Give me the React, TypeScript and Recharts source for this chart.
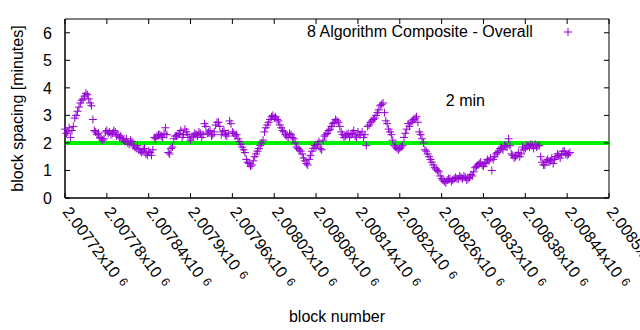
import React from "react";
import { ScatterChart, Scatter, XAxis, YAxis, ReferenceLine, ReferenceDot, ReferenceArea, Legend } from "recharts";

// block spacing samples, one every 2 blocks starting at block 2007720
const firstBlock = 2007720;
const blockStep = 2;
const spacingMinutes = [
  2.5, 2.35, 2.4, 2.55, 2.2, 2.45, 2.6, 2.9, 3.0, 3.15, 3.3, 3.45, 3.55, 3.6, 3.7, 3.8, 3.75, 3.6, 3.45, 3.35,
  2.85, 2.45, 2.4, 2.3, 2.35, 2.2, 2.15, 2.1, 2.15, 2.4, 2.45, 2.35, 2.4, 2.3, 2.35, 2.45, 2.4, 2.25, 2.3, 2.2,
  2.25, 2.15, 2.1, 2.05, 2.15, 2.0, 1.95, 2.1, 2.05, 1.9, 1.85, 1.8, 1.9, 1.75, 1.7, 1.65, 1.75, 1.8, 1.6, 1.55,
  1.7, 1.65, 1.55, 1.75, 2.2, 2.15, 2.25, 2.3, 2.3, 2.25, 2.2, 2.35, 2.55, 2.3, 1.65, 1.6, 1.8, 1.85, 2.15, 2.25,
  2.25, 2.3, 2.35, 2.45, 2.2, 2.3, 2.5, 2.4, 2.3, 2.2, 2.1, 2.2, 2.25, 2.35, 2.3, 2.25, 2.4, 2.35, 2.2, 2.3,
  2.7, 2.6, 2.35, 2.4, 2.45, 2.25, 2.3, 2.4, 2.65, 2.75, 2.75, 2.6, 2.3, 2.4, 2.45, 2.3, 2.25, 2.35, 2.8, 2.7,
  2.4, 2.35, 2.25, 2.3, 2.15, 2.05, 1.95, 1.85, 1.75, 1.65, 1.4, 1.3, 1.25, 1.15, 1.2, 1.35, 1.5, 1.6, 1.7, 1.8,
  1.9, 2.0, 2.1, 2.4, 2.55, 2.65, 2.75, 2.85, 2.95, 3.0, 2.9, 2.95, 2.85, 2.8, 2.65, 2.55, 2.45, 2.4, 2.3, 2.25,
  2.2, 2.35, 2.3, 2.2, 2.15, 2.0, 1.85, 1.8, 1.75, 1.7, 1.6, 1.45, 1.35, 1.25, 1.2, 1.4, 1.55, 1.7, 1.8, 1.9,
  1.85, 1.95, 2.05, 1.8, 1.75, 2.1, 2.25, 2.3, 2.35, 2.45, 2.5, 2.6, 2.7, 2.75, 2.85, 2.8, 2.75, 2.6, 2.4, 2.3,
  2.2, 2.25, 2.3, 2.35, 2.2, 2.3, 2.35, 2.45, 2.25, 2.2, 2.4, 2.3, 2.3, 2.4, 2.2, 2.3, 1.9, 2.6, 2.65, 2.75,
  2.8, 2.85, 2.9, 3.0, 3.1, 3.2, 3.35, 3.4, 3.45, 3.1, 2.8, 2.7, 2.5, 2.4, 2.3, 2.1, 1.9, 1.85, 1.8, 1.75,
  1.8, 1.85, 1.9, 2.2, 2.35, 2.5, 2.7, 2.6, 2.75, 2.8, 2.85, 2.9, 2.95, 2.75, 2.4, 2.3, 2.15, 2.0, 1.75, 1.7,
  1.6, 1.5, 1.4, 1.3, 1.2, 1.1, 1.05, 1.0, 0.95, 0.8, 0.7, 0.65, 0.6, 0.55, 0.65, 0.7, 0.7, 0.6, 0.65, 0.7,
  0.75, 0.7, 0.7, 0.8, 0.75, 0.7, 0.8, 0.75, 0.65, 0.7, 0.75, 0.85, 0.8, 0.95, 1.1, 1.15, 1.2, 1.25, 1.3, 1.2,
  1.15, 1.25, 1.3, 1.4, 1.35, 1.45, 1.0, 1.4, 1.5, 1.6, 1.65, 1.7, 1.8, 1.85, 1.75, 1.9, 1.9, 1.85, 2.15, 1.9,
  1.6, 1.55, 1.45, 1.5, 1.55, 1.65, 1.5, 1.6, 1.85, 1.75, 1.8, 1.9, 1.9, 1.85, 1.95, 1.9, 1.8, 1.95, 1.85, 1.9,
  1.9, 1.5, 1.3, 1.2, 1.2, 1.35, 1.4, 1.3, 1.35, 1.45, 1.25, 1.4, 1.5, 1.6, 1.55, 1.45, 1.6, 1.7, 1.7, 1.6,
  1.55, 1.6, 1.65,
];

const xDomain = [2007720, 2008500];
const xTicks = [
  2007720, 2007780, 2007840, 2007900, 2007960, 2008020, 2008080,
  2008140, 2008200, 2008260, 2008320, 2008380, 2008440, 2008500,
];
const yDomain = [0, 6.5];
const yTicks = [0, 1, 2, 3, 4, 5, 6];
const targetSpacing = 2;
const seriesName = "8 Algorithm Composite - Overall";

const data = spacingMinutes.map((v, i) => ({ block: firstBlock + i * blockStep, spacing: v }));

const W = 640;
const H = 330;
const MARGIN = { top: 19, right: 31, bottom: 0, left: 0 };
const PLOT_TOP = MARGIN.top;
const PLOT_RIGHT = W - MARGIN.right;
const FONT = "'Liberation Sans', Arial, sans-serif";
const PURPLE = "#9400d3";

const PlusMark = (props: any) => {
  const { cx, cy } = props;
  return <path d={`M${cx - 4},${cy}h8M${cx},${cy - 4}v8`} stroke={PURPLE} strokeWidth={1} fill="none" />;
};

// inward tick marks on bottom and top, rotated label below
const XTick = ({ x, y, payload }: any) => {
  const label = parseFloat((payload.value / 1e6).toFixed(5)).toString();
  const tx = x - 3;
  const ty = y + 14;
  return (
    <g>
      <line x1={x} y1={y} x2={x} y2={y - 5} stroke="#000" />
      <line x1={x} y1={PLOT_TOP} x2={x} y2={PLOT_TOP + 5} stroke="#000" />
      <text x={tx} y={ty} transform={`rotate(53 ${tx} ${ty})`} fontFamily={FONT} fontSize={16} fill="#000">
        {label}x10<tspan dx={6} dy={-3} fontSize={12}>6</tspan>
      </text>
    </g>
  );
};

const YTick = ({ x, y, payload }: any) => (
  <g>
    <line x1={x} y1={y} x2={x + 5} y2={y} stroke="#000" />
    <line x1={PLOT_RIGHT} y1={y} x2={PLOT_RIGHT - 5} y2={y} stroke="#000" />
    <text x={x - 13} y={y + 6} textAnchor="end" fontFamily={FONT} fontSize={16} fill="#000">
      {payload.value}
    </text>
  </g>
);

const LegendBox = () => (
  <div style={{ display: "flex", alignItems: "center", fontFamily: FONT, fontSize: 16, color: "#000", whiteSpace: "nowrap" }}>
    <span>{seriesName}</span>
    <svg width={40} height={12} style={{ marginLeft: 27 }}>
      <path d="M4,6h8M8,2v8" stroke={PURPLE} strokeWidth={1} fill="none" />
    </svg>
  </div>
);

export default function App() {
  return (
    <div style={{ position: "absolute", left: 0, top: 0, background: "#fff" }}>
      <ScatterChart width={W} height={H} margin={MARGIN}>
        <XAxis
          dataKey="block"
          type="number"
          domain={xDomain}
          ticks={xTicks}
          tickLine={false}
          tickSize={0}
          tickMargin={0}
          tick={<XTick />}
          height={132}
          stroke="#000"
          interval={0}
          label={{
            content: ({ viewBox }: any) => (
              <text x={viewBox.x + viewBox.width / 2} y={viewBox.y + 124} textAnchor="middle" fontFamily={FONT} fontSize={16} fill="#000">
                block number
              </text>
            ),
          }}
        />
        <YAxis
          dataKey="spacing"
          type="number"
          domain={yDomain}
          ticks={yTicks}
          tickLine={false}
          tickSize={0}
          tickMargin={0}
          tick={<YTick />}
          width={65}
          stroke="#000"
          interval={0}
          label={{
            content: ({ viewBox }: any) => {
              const cy = viewBox.y + viewBox.height / 2;
              return (
                <text x={23} y={cy} transform={`rotate(-90 23 ${cy})`} textAnchor="middle" fontFamily={FONT} fontSize={16} fill="#000">
                  block spacing [minutes]
                </text>
              );
            },
          }}
        />
        <ReferenceArea x1={xDomain[0]} x2={xDomain[1]} y1={yDomain[0]} y2={yDomain[1]} fill="none" stroke="#000" strokeWidth={1} />
        <Legend
          layout="horizontal"
          verticalAlign="middle"
          align="center"
          wrapperStyle={{ top: 23, left: 307, width: "auto" }}
          content={<LegendBox />}
        />
        <Scatter name={seriesName} data={data} shape={<PlusMark />} isAnimationActive={false} />
        <ReferenceLine y={targetSpacing} stroke="#00ee00" strokeWidth={4} />
        <ReferenceDot
          x={2008266}
          y={3.35}
          r={0}
          shape={(p: any) => (
            <text x={p.cx} y={p.cy} fontFamily={FONT} fontSize={16} fill="#000">
              {targetSpacing} min
            </text>
          )}
        />
      </ScatterChart>
    </div>
  );
}
